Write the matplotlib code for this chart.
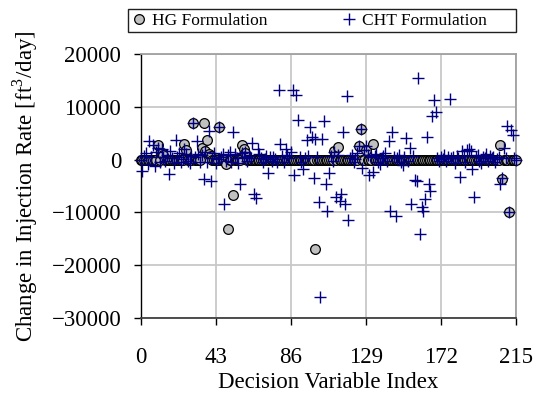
import matplotlib
matplotlib.use("Agg")
import matplotlib.pyplot as plt
from matplotlib.patches import Rectangle
from matplotlib.lines import Line2D

plt.rcParams['font.family'] = ['Liberation Serif', 'DejaVu Serif']
plt.rcParams['mathtext.fontset'] = 'custom'
plt.rcParams['mathtext.rm'] = 'Liberation Serif'

x_ticks = [0, 43, 86, 129, 172, 215]
y_ticks = [-30000, -20000, -10000, 0, 10000, 20000]
index = list(range(216))

hg_values = [
    0, 0, 0, 0, 0, 0, 0, 0, 0, 0, 2800, 0,
    1300, 800, 0, 0, 0, 0, 0, 0, 0, 0, 0, 0,
    0, 2950, 1900, 0, 0, 0, 6900, 0, 0, 0, 0, 2200,
    7000, 1700, 3700, 1100, 600, 0, 0, 0, 0, 6250, 0, 0,
    0, -800, -13200, 0, 0, -6700, 0, 0, 0, 0, 2700, 2000,
    1200, 0, 0, 0, 0, 0, 0, 0, 0, 0, 0, 0,
    0, 0, 0, 0, 0, 0, 0, 0, 0, 0, 0, 0,
    0, 0, 0, 0, 0, 0, 0, 0, 0, 0, 0, 0,
    0, 0, 0, 0, -16900, 0, 0, 0, 0, 0, 0, 0,
    0, 0, 0, 1700, 0, 2300, 0, 0, 0, 0, 0, 0,
    0, 0, 0, 0, 0, 2600, 5800, 0, 0, 1800, 0, 0,
    0, 3000, 0, 0, 0, 0, 0, 0, 0, 0, 0, 0,
    0, 0, 0, 0, 0, 0, 0, 0, 0, 0, 0, 0,
    0, 0, 0, 0, 0, 0, 0, 0, 0, 0, 0, 0,
    0, 0, 0, 0, 0, 0, 0, 0, 0, 0, 0, 0,
    0, 0, 0, 0, 0, 0, 0, 0, 0, 0, 0, 0,
    0, 0, 0, 0, 0, 0, 0, 0, 0, 0, 0, 0,
    0, 0, 2800, -3650, 0, 0, 0, -10000, 0, 0, 0, 0,
]

cht_values = [
    0, -2200, 600, 1300, -800, 3600, 500, 2800, -1200, 1500, 2200, -500,
    2000, 400, -300, 800, -2700, 1700, 300, -600, 3700, 500, 1200, -400,
    200, 2000, 1000, -300, -700, 600, 6900, 400, 3600, 1000, -500, 800,
    -3650, 1500, -400, 5500, -4000, 300, 1200, -600, 200, 6250, 500, 1000,
    -8400, -300, 800, 1500, -500, 5200, 1000, 300, -600, -4700, 1200, 500,
    1500, -300, 600, 300, 3200, -6600, -7250, 2000, 1000, 300, -500, 200,
    600, -2500, 400, -300, 500, 200, -500, 13200, 3000, 600, -400, 2000,
    800, 300, 1500, 13200, -3000, 12300, 7500, 500, -400, -1700, 300, 3700,
    600, 6250, 4200, -3500, 3900, 500, -8100, -25950, 3900, 7400, -4700, -9800,
    -2600, 600, -300, 1500, -7000, 800, -7800, -6600, 5200, -8400, 12100, -11400,
    300, 800, -400, 200, 1200, 2600, 5800, -1500, 1800, 2500, 800, -3000,
    400, -2400, 600, 1000, -500, -800, 300, 700, 1200, -300, 3600, -9800,
    5200, 500, -10600, 300, 800, -400, -1000, 500, 4000, -300, 2200, -8400,
    600, -3850, -4000, 15400, -14100, -9000, -9700, -7400, 4200, -4600, -6000, 8300,
    11300, 9100, 300, -200, 500, 200, 800, -300, 400, 11500, 300, 500,
    -600, 700, 300, -3350, 1700, 600, -400, 1800, 2000, 1700, -1800, -7000,
    500, 800, -300, -600, 400, 300, 1000, -200, 600, 300, 500, -500,
    200, 400, -4600, -3500, 2200, 300, 6400, -10000, 5600, 4700, 300, 0,
]

W, H = 540, 395
fig = plt.figure(figsize=(W / 100, H / 100), dpi=100)
ax = fig.add_axes([140.7 / W, 1 - 318 / H, (516 - 140.7) / W, (318 - 54) / H])

ax.plot(index, hg_values, linestyle='none', marker='o', markersize=7.0,
        markerfacecolor='#c0c0c0', markeredgecolor='black', markeredgewidth=0.9,
        clip_on=False, zorder=3)
ax.plot(index, cht_values, linestyle='none', marker='+', markersize=8.5,
        markeredgewidth=1.0, color='#000080', clip_on=False, zorder=4)

ax.set_xlim(0, 215)
ax.set_ylim(-30000, 20000)
ax.set_xticks(x_ticks)
ax.set_yticks(y_ticks)
ax.grid(True, color='#c8c8c8', linewidth=1.3)
ax.set_axisbelow(True)

for side in ['top', 'right']:
    ax.spines[side].set_color('#a0a0a0')
    ax.spines[side].set_linewidth(1.3)
ax.spines['left'].set_color('black')
ax.spines['bottom'].set_color('#404040')
ax.spines['left'].set_linewidth(1.0)
ax.spines['bottom'].set_linewidth(1.3)

ax.tick_params(axis='y', direction='out', length=5, width=1, pad=9, labelsize=16.5)
ax.tick_params(axis='x', direction='out', length=5, width=1, pad=16, labelsize=16.5)

ax.set_xlabel('Decision Variable Index', fontsize=16.5, labelpad=3)
ax.set_ylabel('Change in Injection Rate [ft$^3$/day]', fontsize=16.5, labelpad=8)

# legend box
fig.patches.append(Rectangle((128 / W, 1 - 32 / H), (516 - 128) / W, 23 / H,
                             transform=fig.transFigure, facecolor='white',
                             edgecolor='#202020', linewidth=1.0))
handles = [
    Line2D([], [], linestyle='none', marker='o', markersize=7.0,
           markerfacecolor='#c0c0c0', markeredgecolor='black', markeredgewidth=0.9),
    Line2D([], [], linestyle='none', marker='+', markersize=8.5,
           markeredgewidth=1.0, color='#000080'),
]
fig.legend(handles, ['HG Formulation', 'CHT Formulation'], ncol=2,
           loc='center left', bbox_to_anchor=(132 / W, 1 - 20.5 / H),
           frameon=False, fontsize=12.5, handlelength=0.8, handletextpad=0.35,
           columnspacing=4.3, borderpad=0, borderaxespad=0)

fig.savefig('out.png', dpi=100)
